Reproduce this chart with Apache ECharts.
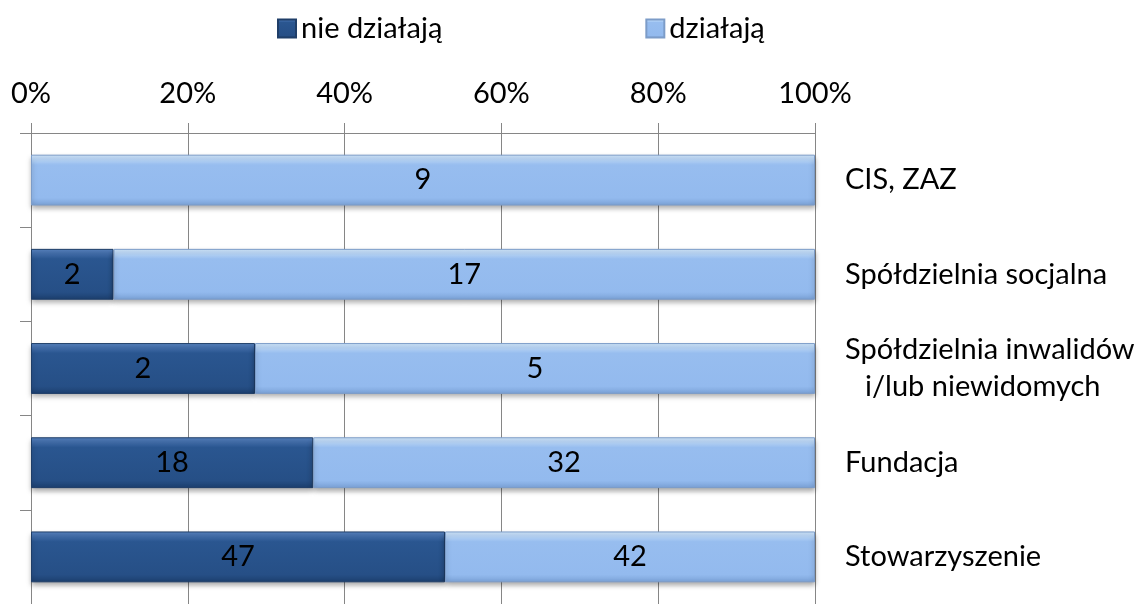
<!DOCTYPE html>
<html>
<head>
<meta charset="utf-8">
<script src="https://cdn.jsdelivr.net/npm/echarts@6/dist/echarts.min.js"></script>
<style>html,body{margin:0;padding:0;background:#fff}#c{width:1145px;height:604px}</style>
</head>
<body>
<div id="c"></div>
<script>
const categories = ['CIS, ZAZ', 'Spółdzielnia socjalna', 'Spółdzielnia inwalidów\ni/lub niewidomych', 'Fundacja', 'Stowarzyszenie'];
const nieDzialaja = [0, 2, 2, 18, 47];
const dzialaja = [9, 17, 5, 32, 42];
const seriesNames = ['nie działają', 'działają'];
const tickLabels = ['0%', '20%', '40%', '60%', '80%', '100%'];

const totals = categories.map((c, i) => nieDzialaja[i] + dzialaja[i]);
const pct = arr => arr.map((v, i) => v === 0 ? '-' : v / totals[i] * 100);

const FONT = 'Lato';
const FS = 29;
const darkGrad = new echarts.graphic.LinearGradient(0, 0, 0, 1, [
  {offset: 0, color: '#5a86c4'}, {offset: 0.12, color: '#3d69a6'},
  {offset: 0.2, color: '#2a5690'}, {offset: 0.85, color: '#264f86'},
  {offset: 1, color: '#1c3f6e'}]);
const lightGrad = new echarts.graphic.LinearGradient(0, 0, 0, 1, [
  {offset: 0, color: '#d2e8fd'}, {offset: 0.12, color: '#b3d3f8'},
  {offset: 0.2, color: '#97bdef'}, {offset: 0.85, color: '#93baee'},
  {offset: 1, color: '#7aa1d6'}]);

const chart = echarts.init(document.getElementById('c'));
chart.setOption({
  animation: false,
  textStyle: {fontFamily: FONT},
  legend: {
    left: 272, top: 9, itemGap: 203, itemWidth: 18, itemHeight: 18,
    textStyle: {fontFamily: FONT, fontSize: FS, color: '#000'},
    data: [{name: seriesNames[0], icon: 'rect'}, {name: seriesNames[1], icon: 'rect'}]
  },
  grid: {left: 31, right: 330, top: 133, bottom: -4},
  xAxis: {
    type: 'value', position: 'top', min: 0, max: 100, interval: 20,
    axisLine: {show: true, lineStyle: {color: '#868686', width: 1}},
    axisTick: {show: true, length: 10, lineStyle: {color: '#868686'}},
    splitLine: {show: true, lineStyle: {color: '#868686', width: 1}},
    axisLabel: {fontFamily: FONT, fontSize: FS, color: '#000', margin: 25,
      formatter: v => tickLabels[Math.round(v / 20)]}
  },
  yAxis: [{
    type: 'category', inverse: true, position: 'left', data: categories,
    axisLine: {show: true, lineStyle: {color: '#868686'}},
    axisTick: {show: true, length: 11, lineStyle: {color: '#868686'}},
    axisLabel: {show: false}
  }, {
    type: 'category', inverse: true, position: 'right', data: categories,
    axisLine: {show: false}, axisTick: {show: false},
    axisLabel: {
      fontFamily: FONT, fontSize: FS, color: '#000', margin: 30, align: 'left', lineHeight: 37,
      formatter: v => {
        const parts = v.split('\n');
        if (parts.length > 1) return '{a|' + parts[0] + '}\n{b|' + parts[1] + '}';
        return v;
      },
      rich: {
        a: {fontFamily: FONT, fontSize: FS, color: '#000', lineHeight: 37},
        b: {fontFamily: FONT, fontSize: FS, color: '#000', lineHeight: 37, padding: [0, 0, 0, 20]}
      }
    }
  }],
  series: [{
    name: seriesNames[0], type: 'bar', stack: 'a', barWidth: '54%', yAxisIndex: 0,
    data: pct(nieDzialaja),
    itemStyle: {color: darkGrad, borderColor: '#1f3e68', borderWidth: 1,
      shadowColor: 'rgba(0,0,0,0.35)', shadowBlur: 5, shadowOffsetY: 3},
    label: {show: true, position: 'inside', fontFamily: FONT, fontSize: FS, color: '#000',
      formatter: p => nieDzialaja[p.dataIndex] ? String(nieDzialaja[p.dataIndex]) : ''}
  }, {
    name: seriesNames[1], type: 'bar', stack: 'a', barWidth: '54%', yAxisIndex: 0,
    data: pct(dzialaja),
    itemStyle: {color: lightGrad, borderColor: '#7c9cc8', borderWidth: 1,
      shadowColor: 'rgba(0,0,0,0.35)', shadowBlur: 5, shadowOffsetY: 3},
    label: {show: true, position: 'inside', fontFamily: FONT, fontSize: FS, color: '#000',
      formatter: p => String(dzialaja[p.dataIndex])}
  }],
  color: ['#2a5690', '#95bbef']
});
</script>
</body>
</html>
